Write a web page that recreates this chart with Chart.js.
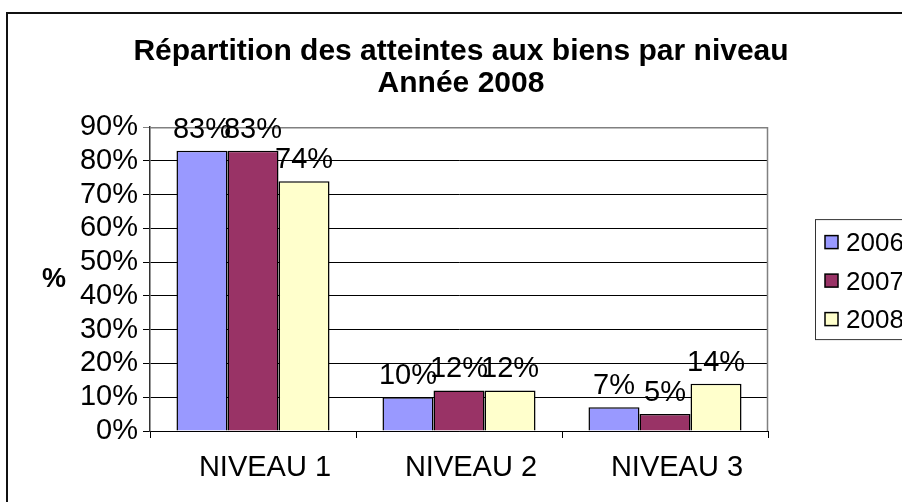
<!DOCTYPE html>
<html>
<head>
<meta charset="utf-8">
<script src="https://cdn.jsdelivr.net/npm/chart.js@4"></script>
<style>
  html, body { margin: 0; padding: 0; background: #fff; overflow: hidden; }
  #wrap { width: 902px; height: 502px; }
</style>
</head>
<body>
<div id="wrap"><canvas id="chart"></canvas></div>
<script>
// Valores
const niveaux = ["NIVEAU 1", "NIVEAU 2", "NIVEAU 3"];
const annees = ["2006", "2007", "2008"];
const v2006 = [83, 10, 7];
const v2007 = [83, 12, 5];
const v2008 = [74, 12, 14];
const yTicks = [0, 10, 20, 30, 40, 50, 60, 70, 80, 90];

const couleurs = ["#9999FF", "#993366", "#FFFFCC"];
const FONT = "'Liberation Sans', Arial, sans-serif";

// cadre, titre d'axe, bordure de zone, étiquettes et légende
const decor = {
  id: "decor",
  beforeDraw(chart) {
    const c = chart.ctx;
    c.save();
    c.strokeStyle = "#111";
    c.lineWidth = 2;
    c.strokeRect(7, 13, 1200, 1200);
    c.restore();
  },
  beforeDatasetsDraw(chart) {
    const c = chart.ctx;
    const a = chart.chartArea;
    c.save();
    c.strokeStyle = "#808080";
    c.lineWidth = 1.5;
    c.beginPath();
    c.moveTo(a.left, a.top + 0.5);
    c.lineTo(a.right - 0.5, a.top + 0.5);
    c.lineTo(a.right - 0.5, a.bottom);
    c.stroke();
    // "%"
    c.fillStyle = "#000";
    c.font = "bold 27px " + FONT;
    c.textAlign = "center";
    c.textBaseline = "middle";
    c.fillText("%", a.left - 96, (a.top + a.bottom) / 2);
    c.restore();
  },
  afterDatasetsDraw(chart) {
    const c = chart.ctx;
    const a = chart.chartArea;
    c.save();
    c.fillStyle = "#000";
    c.font = "29px " + FONT;
    c.textAlign = "center";
    c.textBaseline = "alphabetic";
    chart.data.datasets.forEach((ds, i) => {
      chart.getDatasetMeta(i).data.forEach((bar, j) => {
        c.fillText(ds.data[j] + "%", bar.x, bar.y - 13);
      });
    });

    // légende
    const bx = a.right + 47;
    const bh = 120;
    const by = (a.top + a.bottom) / 2 - bh / 2;
    c.strokeStyle = "#333";
    c.lineWidth = 1;
    c.strokeRect(bx + 0.5, by + 0.5, 200, bh);
    c.font = "26px " + FONT;
    c.textAlign = "left";
    c.textBaseline = "middle";
    chart.data.datasets.forEach((ds, i) => {
      const cy = by + 23 + i * 38.5;
      c.fillStyle = ds.backgroundColor;
      c.fillRect(bx + 10, cy - 6.5, 13, 13);
      c.strokeStyle = "#000";
      c.lineWidth = 1.5;
      c.strokeRect(bx + 10, cy - 6.5, 13, 13);
      c.fillStyle = "#000";
      c.fillText(ds.label, bx + 31, cy + 2);
    });
    c.restore();
  }
};

const series = [v2006, v2007, v2008];

new Chart(document.getElementById("chart").getContext("2d"), {
  type: "bar",
  data: {
    labels: niveaux,
    datasets: annees.map((an, i) => ({
      label: an,
      data: series[i],
      backgroundColor: couleurs[i],
      borderColor: "#000",
      borderWidth: 1.5,
      categoryPercentage: 0.743,
      barPercentage: 1
    }))
  },
  plugins: [decor],
  options: {
    responsive: true,
    maintainAspectRatio: false,
    animation: false,
    layout: { padding: { left: 20, right: 0, top: 0, bottom: 0 } },
    plugins: {
      legend: { display: false },
      tooltip: { enabled: false },
      title: {
        display: true,
        text: ["Répartition des atteintes aux biens par niveau", "Année 2008"],
        color: "#000",
        font: { family: FONT, size: 30, weight: "bold", lineHeight: 1.07 },
        padding: { top: 36, bottom: 27 }
      }
    },
    scales: {
      x: {
        grid: { drawOnChartArea: false, drawTicks: true, tickLength: 7, color: "#000", offset: true },
        border: { display: true, color: "#000", width: 1 },
        ticks: { color: "#000", font: { family: FONT, size: 29 }, padding: 13, labelOffset: 12, maxRotation: 0 },
        afterFit(s) { s.height = 71; }
      },
      y: {
        min: 0,
        max: 90,
        afterBuildTicks(s) { s.ticks = yTicks.map(v => ({ value: v })); },
        grid: {
          color: ctx => (ctx.tick && ctx.tick.value === 90 ? "#808080" : "#000"),
          lineWidth: 1,
          tickLength: 7
        },
        border: { display: true, color: "#333", width: 1.5 },
        ticks: {
          color: "#000",
          font: { family: FONT, size: 29 },
          padding: 5,
          autoSkip: false,
          callback: v => v + "%"
        },
        afterFit(s) { s.width = 130; }
      },
      // réserve la place de la légende à droite
      yLegende: {
        position: "right",
        display: true,
        grid: { display: false },
        border: { display: false },
        ticks: { display: false },
        afterFit(s) { s.width = 134; }
      }
    }
  }
});
</script>
</body>
</html>
